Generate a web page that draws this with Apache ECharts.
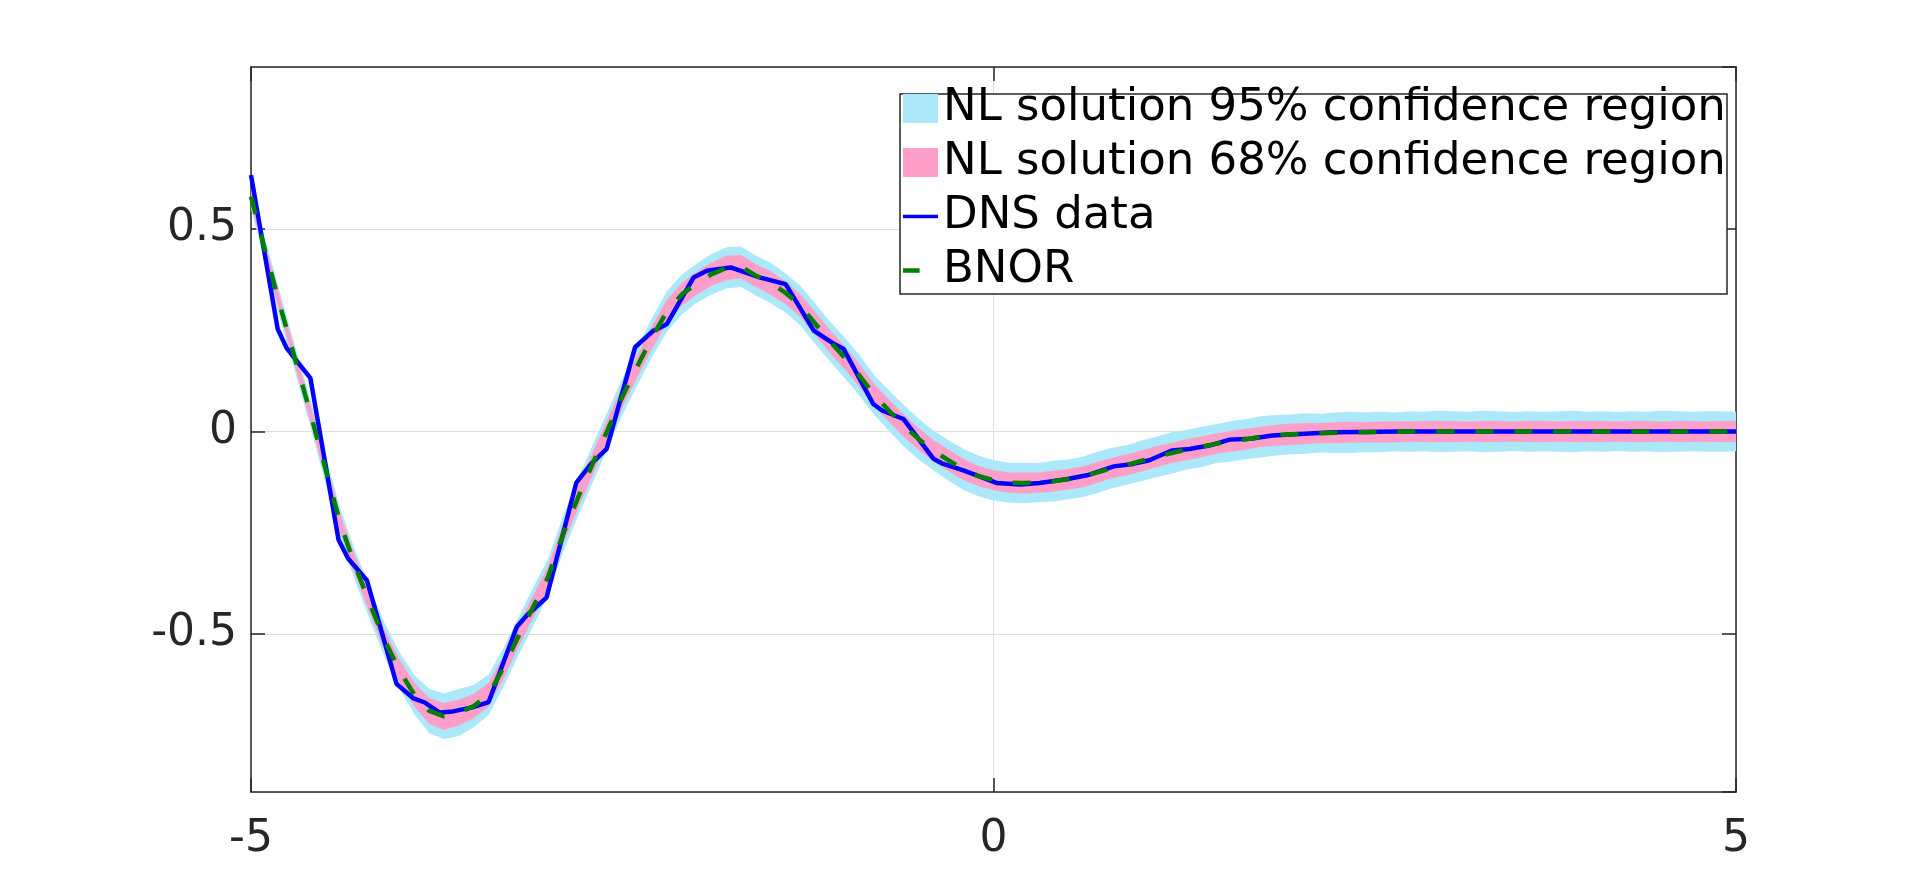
<!DOCTYPE html>
<html><head><meta charset="utf-8">
<script src="https://cdn.jsdelivr.net/npm/echarts@6/dist/echarts.min.js"></script>
<style>html,body{margin:0;padding:0;background:#fff}#chart{width:1920px;height:893px}</style>
</head><body><div id="chart"></div>
<script>
// ---- data ----
const xGrid = [-5.0,-4.9,-4.8,-4.7,-4.6,-4.5,-4.4,-4.3,-4.2,-4.1,-4.0,-3.9,-3.8,-3.7,-3.6,-3.5,-3.4,-3.3,-3.2,-3.1,
  -3.0,-2.9,-2.8,-2.7,-2.6,-2.5,-2.4,-2.3,-2.2,-2.1,-2.0,-1.9,-1.8,-1.7,-1.6,-1.5,-1.4,-1.3,-1.2,-1.1,
  -1.0,-0.9,-0.8,-0.7,-0.6,-0.5,-0.4,-0.3,-0.2,-0.1,0.0,0.1,0.2,0.3,0.4,0.5,0.6,0.7,0.8,0.9,
  1.0,1.1,1.2,1.3,1.4,1.5,1.6,1.7,1.8,1.9,2.0,2.1,2.2,2.3,2.4,2.5,2.6,2.7,2.8,2.9,
  3.0,3.1,3.2,3.3,3.4,3.5,3.6,3.7,3.8,3.9,4.0,4.1,4.2,4.3,4.4,4.5,4.6,4.7,4.8,4.9,5.0];
const bnor = [0.580,0.440,0.305,0.175,0.045,-0.090,-0.225,-0.330,-0.425,-0.515,-0.590,-0.650,-0.690,-0.703,-0.694,-0.678,-0.650,-0.583,-0.506,-0.433,
  -0.360,-0.255,-0.165,-0.080,0.003,0.085,0.160,0.232,0.296,0.338,0.366,0.388,0.404,0.407,0.385,0.367,0.342,0.311,0.266,0.222,
  0.181,0.137,0.089,0.050,0.013,-0.020,-0.048,-0.072,-0.094,-0.110,-0.120,-0.126,-0.127,-0.126,-0.123,-0.118,-0.112,-0.101,-0.090,-0.082,
  -0.072,-0.062,-0.053,-0.045,-0.038,-0.030,-0.024,-0.019,-0.013,-0.009,-0.007,-0.005,-0.004,-0.003,-0.002,-0.002,-0.001,-0.001,0,0,
  0,0,0,0,0,0,0,0,0,0,0,0,0,0,0,0,0,0,0,0,0];
const half95 = [0.030,0.030,0.032,0.032,0.034,0.035,0.036,0.038,0.040,0.042,0.045,0.048,0.055,0.056,0.058,0.052,0.050,0.048,0.047,0.048,
  0.046,0.045,0.046,0.047,0.046,0.045,0.047,0.048,0.050,0.049,0.048,0.050,0.051,0.050,0.049,0.050,0.048,0.049,0.050,0.049,
  0.050,0.050,0.049,0.050,0.051,0.050,0.049,0.050,0.051,0.050,0.050,0.049,0.050,0.048,0.050,0.049,0.050,0.051,0.050,0.049,
  0.050,0.050,0.051,0.049,0.050,0.048,0.050,0.049,0.051,0.050,0.049,0.050,0.048,0.050,0.051,0.049,0.050,0.048,0.050,0.049,
  0.051,0.050,0.049,0.051,0.050,0.048,0.050,0.049,0.050,0.051,0.049,0.050,0.048,0.050,0.049,0.051,0.050,0.049,0.050,0.050,0.049];
const half68 = [0.018,0.018,0.019,0.019,0.020,0.021,0.022,0.023,0.024,0.025,0.027,0.029,0.032,0.033,0.032,0.030,0.029,0.028,0.027,0.028,
  0.027,0.026,0.027,0.028,0.027,0.026,0.027,0.028,0.029,0.028,0.028,0.029,0.030,0.029,0.028,0.029,0.028,0.028,0.029,0.028,
  0.028,0.028,0.027,0.028,0.028,0.027,0.026,0.027,0.026,0.025,0.025,0.025,0.026,0.025,0.026,0.025,0.026,0.026,0.025,0.026,
  0.026,0.026,0.025,0.026,0.026,0.025,0.026,0.026,0.025,0.026,0.026,0.026,0.025,0.026,0.026,0.025,0.026,0.026,0.025,0.026,
  0.026,0.026,0.025,0.026,0.026,0.025,0.026,0.026,0.025,0.026,0.026,0.026,0.025,0.026,0.026,0.025,0.026,0.026,0.025,0.026,0.026];
const dnsX = [-5.00,-4.82,-4.76,-4.60,-4.41,-4.345,-4.22,-4.02,-3.91,-3.83,-3.73,-3.64,-3.51,-3.40,-3.21,-3.14,-3.01,-2.81,-2.71,-2.605,
  -2.414,-2.29,-2.20,-2.02,-1.93,-1.77,-1.57,-1.40,-1.21,-1.09,-1.01,-0.81,-0.75,-0.607,-0.405,-0.338,-0.203,0.02,0.18,0.31,
  0.49,0.63,0.81,0.94,1.05,1.20,1.32,1.46,1.59,1.73,1.88,2.06,2.29,2.74,5.00];
const dnsY = [0.633,0.253,0.206,0.132,-0.268,-0.314,-0.367,-0.623,-0.658,-0.669,-0.694,-0.691,-0.681,-0.668,-0.482,-0.453,-0.410,-0.127,-0.080,-0.043,
  0.208,0.249,0.265,0.380,0.397,0.405,0.380,0.364,0.249,0.220,0.204,0.068,0.052,0.031,-0.067,-0.080,-0.096,-0.127,-0.131,-0.127,
  -0.118,-0.108,-0.086,-0.080,-0.071,-0.047,-0.043,-0.034,-0.020,-0.018,-0.010,-0.006,-0.002,0.000,0.000];
const xTicks = [-5, 0, 5];
const seriesNames = ['NL solution 95% confidence region','NL solution 68% confidence region','DNS data','BNOR'];

// ---- style ----
const FONT = 'DejaVu Sans';
const C95 = '#abe8f9', C68 = '#fe9fca', CBLUE = '#0000ff', CGREEN = '#008000', AX = '#262626';

const lo95 = bnor.map((v,i)=>v-half95[i]), hi95 = bnor.map((v,i)=>v+half95[i]);
const lo68 = bnor.map((v,i)=>v-half68[i]), hi68 = bnor.map((v,i)=>v+half68[i]);
const bnorData = xGrid.map((x,i)=>[x, bnor[i]]);
const dnsData = dnsX.map((x,i)=>[x, dnsY[i]]);

function bandSeries(name, lo, hi, color, z) {
  return {
    type:'custom', name:name, z:z, silent:true, clip:true,
    data: xGrid.map((x,i)=>[x, lo[i], hi[i]]),
    encode:{x:0, y:[1,2]},
    itemStyle:{color:color},
    renderItem: function(params, api) {
      if (params.dataIndex !== 0) return null;
      const pts = [];
      for (let i = 0; i < xGrid.length; i++) pts.push(api.coord([xGrid[i], hi[i]]));
      for (let i = xGrid.length - 1; i >= 0; i--) pts.push(api.coord([xGrid[i], lo[i]]));
      return {type:'polygon', shape:{points:pts}, style:{fill:color, stroke:null}};
    }
  };
}

const axLine = {show:true, onZero:false, lineStyle:{color:AX, width:1.5}};
const axTick = {show:true, inside:true, length:14, lineStyle:{color:AX, width:1.5}};

const chart = echarts.init(document.getElementById('chart'), null, {renderer:'canvas'});
chart.setOption({
  animation:false,
  backgroundColor:'#fff',
  grid: {left:251, right:184, top:67, bottom:101, containLabel:false},
  xAxis: [
    {type:'value', min:xTicks[0], max:xTicks[2], interval:xTicks[2]-xTicks[1], position:'bottom',
     axisLine:axLine, axisTick:axTick,
     axisLabel:{color:AX, fontSize:44, fontFamily:FONT, margin:26},
     splitLine:{show:true, lineStyle:{color:'#dfdfdf', width:1}}},
    {type:'value', min:xTicks[0], max:xTicks[2], interval:xTicks[2]-xTicks[1], position:'top',
     axisLine:axLine, axisTick:axTick, axisLabel:{show:false}, splitLine:{show:false}}
  ],
  yAxis: [
    {type:'value', min:-0.89, max:0.9, splitNumber:4, position:'left',
     axisLine:axLine, axisTick:axTick,
     axisLabel:{color:AX, fontSize:44, fontFamily:FONT, margin:14, showMinLabel:false, showMaxLabel:false},
     splitLine:{show:true, lineStyle:{color:'#dfdfdf', width:1}}},
    {type:'value', min:-0.89, max:0.9, splitNumber:4, position:'right',
     axisLine:axLine, axisTick:axTick, axisLabel:{show:false}, splitLine:{show:false}}
  ],
  graphic: [
    {type:'rect', z:10, silent:true, shape:{x:900, y:94, width:827, height:200},
     style:{fill:'#fff', stroke:AX, lineWidth:1.5}}
  ],
  legend: {
    left:899, top:86, orient:'vertical', selectedMode:false, z:11,
    padding:[0,4,0,4], itemGap:9, itemWidth:35, itemHeight:29,
    textStyle:{color:'#000', fontSize:45, fontFamily:FONT},
    data:[
      {name:seriesNames[0], icon:'rect', itemStyle:{color:C95}},
      {name:seriesNames[1], icon:'rect', itemStyle:{color:C68}},
      {name:seriesNames[2], icon:'path://M0,0L38,0L38,4L0,4Z', itemStyle:{color:CBLUE}},
      {name:seriesNames[3], icon:'path://M0,0L18,0L18,5L0,5ZM38,0L38,0.01L37.99,0.01Z', itemStyle:{color:CGREEN}}
    ]
  },
  series: [
    bandSeries(seriesNames[0], lo95, hi95, C95, 1),
    bandSeries(seriesNames[1], lo68, hi68, C68, 2),
    {name:seriesNames[2], type:'line', data:dnsData, showSymbol:false, symbol:'none',
     lineStyle:{color:CBLUE, width:4.5}, itemStyle:{color:CBLUE}, z:3},
    {name:seriesNames[3], type:'line', data:bnorData, showSymbol:false, symbol:'none',
     lineStyle:{color:CGREEN, width:4.5, type:[18,21], cap:'butt'}, itemStyle:{color:CGREEN}, z:4}
  ]
});
</script></body></html>
